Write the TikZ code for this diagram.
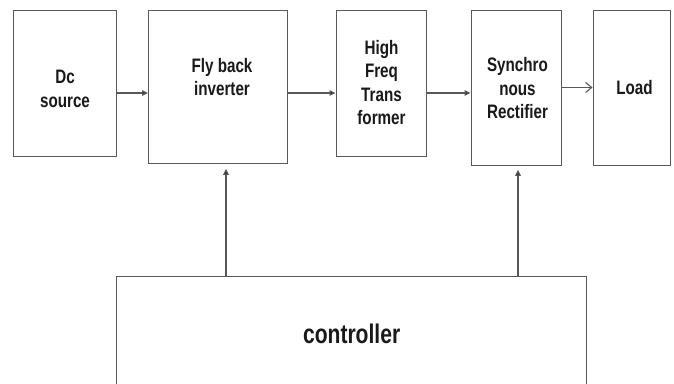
\documentclass[tikz,border=0pt]{standalone}
\usepackage{fontspec}
\setmainfont{Liberation Sans}[FakeStretch=0.78]
\usetikzlibrary{arrows.meta,calc}
\definecolor{ln}{RGB}{88,88,88}
\definecolor{tx}{RGB}{25,25,25}
\begin{document}
\begin{tikzpicture}[x=1pt,y=-1pt,
  blk/.style={draw=ln,line width=1.3pt,fill=white,inner sep=0pt,anchor=north west},
  lbl/.style={align=center,font=\fontsize{19.5}{23.5}\selectfont\bfseries,text=tx,inner sep=0pt},
  arr/.style={draw=ln,line width=1.3pt,-{Triangle[length=6pt,width=5.5pt,fill=black]}},
  oarr/.style={draw=ln,line width=1.1pt,-{Straight Barb[length=6pt,width=10pt]}}]
\useasboundingbox (0,0) rectangle (674,383);
\clip (0,0) rectangle (674,383);
\fill[white] (0,0) rectangle (674,383);
% blocks
\node[blk,minimum width=103pt,minimum height=146.5pt] (dc) at (13,9.5) {};
\node[blk,minimum width=139pt,minimum height=153.5pt] (fly) at (148,9.5) {};
\node[blk,minimum width=90pt,minimum height=146.5pt] (hf) at (335.5,9.5) {};
\node[blk,minimum width=90pt,minimum height=155.5pt] (sr) at (470.5,9.5) {};
\node[blk,minimum width=77pt,minimum height=155.5pt] (ld) at (592.5,9.5) {};
\node[blk,minimum width=470pt,minimum height=114pt,
      font=\fontsize{27}{30}\selectfont\bfseries,text=tx] (ctl) at (116,276) {controller};
% labels
\node[lbl] (tdc) at (65,89) {Dc\\source};
\node[lbl] (tfly) at (222,77) {Fly back\\inverter};
\node[lbl] (thf) at (381.5,82.5) {High\\Freq\\Trans\\former};
\node[lbl] (tsr) at (517.5,88.5) {Synchro\\nous\\Rectifier};
\node[lbl] (tld) at (634.5,88) {Load};
% connector levels
\coordinate (ya) at (0,93);
\coordinate (yb) at (0,87.5);
\coordinate (xa) at (226,0);
\coordinate (xb) at (518,0);
% connectors
\draw[arr] (dc.east |- ya) -- (fly.west |- ya);
\draw[arr] (fly.east |- ya) -- (hf.west |- ya);
\draw[arr] (hf.east |- ya) -- (sr.west |- ya);
\draw[oarr] (sr.east |- yb) -- (ld.west |- yb);
\draw[arr,shorten >=4.5pt] (ctl.north -| xa) -- (fly.south -| xa);
\draw[arr,shorten >=3.5pt] (ctl.north -| xb) -- (sr.south -| xb);
\end{tikzpicture}
\end{document}
